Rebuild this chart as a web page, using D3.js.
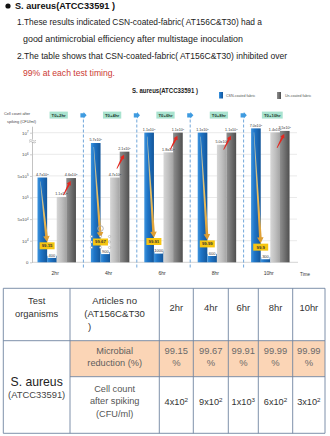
<!DOCTYPE html>
<html><head><meta charset="utf-8">
<script src="https://cdn.jsdelivr.net/npm/d3@7"></script>
<style>body{margin:0;background:#fff}svg{display:block}</style>
</head><body>
<svg id="c" width="330" height="436"></svg>
<script>
// ---------- data ----------
const groups = ["2hr", "4hr", "6hr", "8hr", "10hr"];
const stages = ["T0+2hr", "T0+4hr", "T0+6hr", "T0+8hr", "T0+10hr"];
const coatedBefore = [4.7e5, 5.7e6, 1.1e7, 1.1e7, 7.0e7];
const coatedAfter = [400, 900, 1000, 600, 300];
const controlBefore = [1.1e5, 4.7e5, 1.8e6, 5.0e6, 1.4e7];
const controlAfter = [4.6e5, 2.1e6, 1.1e7, 1.1e7, 3.5e7];
const chartReduction = ["99.15", "99.67", "99.91", "99.99", "99.9"];
const yTicks = [0, 1e4, 5e4, 1e5, 5e5, 1e6, 1e7];
const yTickLabels = [["0", ""], ["10", "4"], ["5x10", "4"], ["10", "5"], ["5x10", "5"], ["10", "6"], ["10", "7"]];
const tableTimes = ["2hr", "4hr", "6hr", "8hr", "10hr"];
const tableReduction = ["99.15", "99.67", "99.91", "99.99", "99.99"];
const cellMantissa = [4, 9, 1, 6, 3];
const cellExponent = [2, 2, 3, 2, 2];
const introLines = [
  "1.These results indicated CSN-coated-fabric( AT156C&T30) had a",
  "good antimicrobial efficiency after multistage  inoculation",
  "2.The table shows that CSN-coated-fabric( AT156C&T30) inhibited  over",
  "99% at each test timing."
];

// ---------- setup ----------
const F = "'Liberation Sans', Arial, sans-serif";
const svg = d3.select("#c").attr("font-family", F);
const defs = svg.append("defs");
function hgrad(id, stops) {
  const g = defs.append("linearGradient").attr("id", id).attr("x1", 0).attr("x2", 1).attr("y1", 0).attr("y2", 0);
  stops.forEach(([o, c]) => g.append("stop").attr("offset", o).attr("stop-color", c));
}
hgrad("gBlue", [[0, "#3e95de"], [0.35, "#1f75c7"], [1, "#13569a"]]);
hgrad("gLight", [[0, "#d6d6d6"], [0.5, "#c0c0c0"], [1, "#a4a4a4"]]);
hgrad("gDark", [[0, "#8f8f8f"], [0.5, "#707070"], [1, "#4f4f4f"]]);

function sup(sel, base, exp) {
  sel.append("tspan").text(base);
  if (exp) sel.append("tspan").attr("dy", "-0.45em").attr("font-size", "0.68em").text(exp);
}

// ---------- intro text ----------
svg.append("circle").attr("cx", 8).attr("cy", 6).attr("r", 2.6).attr("fill", "#111");
svg.append("text").attr("x", 15).attr("y", 9).attr("font-size", 8.6).attr("font-weight", "bold")
  .attr("fill", "#111").attr("textLength", 100).attr("lengthAdjust", "spacingAndGlyphs").text("S. aureus(ATCC33591 )");
const introPos = [[17, 24.6, 245, "#222"], [23, 41.9, 220, "#222"], [17, 58.9, 270, "#222"], [23, 75.6, 92, "#cc3a34"]];
introLines.forEach((t, i) => {
  const [x, y, w, c] = introPos[i];
  svg.append("text").attr("x", x).attr("y", y).attr("font-size", 8.2).attr("fill", c)
    .attr("textLength", w).attr("lengthAdjust", "spacingAndGlyphs").text(t);
});

// ---------- chart ----------
const yBot = 262.3, yTop = 132.7, step = (yBot - yTop) / 6;
const yMain = d3.scaleLinear().domain([...yTicks, 1e8])
  .range([0, 1, 2, 3, 4, 5, 6, 6.3].map(i => yBot - i * step));
const yLow = d3.scaleLog().domain([100, 1e4]).range([yBot, yBot - step]).clamp(true);
const y = v => (v < 1e4 ? yLow(v) : yMain(v));

const x0 = d3.scaleBand().domain(groups).range([30, 297]).padding(0);
const keys = ["cb", "ca", "gb", "ga"];
const x1 = d3.scaleBand().domain(keys).range([0, x0.bandwidth()]).paddingInner(0).paddingOuter(0.78);
const bw = x1.bandwidth();

const chart = svg.append("g");
// title
chart.append("text").attr("x", 165).attr("y", 92.8).attr("text-anchor", "middle").attr("font-size", 6.6)
  .attr("font-weight", "bold").attr("fill", "#222").attr("textLength", 66).attr("lengthAdjust", "spacingAndGlyphs")
  .text("S. aureus(ATCC33591 )");
// legend
chart.append("rect").attr("x", 219).attr("y", 92).attr("width", 4).attr("height", 6.5).attr("fill", "url(#gBlue)");
chart.append("text").attr("x", 226).attr("y", 96.6).attr("font-size", 3.6).attr("fill", "#555").text("CSN-coated fabric");
chart.append("rect").attr("x", 277).attr("y", 92).attr("width", 4).attr("height", 7).attr("fill", "url(#gDark)");
chart.append("text").attr("x", 285).attr("y", 96.8).attr("font-size", 3.6).attr("fill", "#555").text("Un-coated fabric");
// y title
chart.append("text").attr("x", 4).attr("y", 114.5).attr("font-size", 3.9).attr("fill", "#444").text("Cell count after");
chart.append("text").attr("x", 7).attr("y", 122.5).attr("font-size", 3.9).attr("fill", "#444").text("spiking (CFU/ml)");

// gridlines
chart.append("g").selectAll("line").data(yTicks.slice(1)).join("line")
  .attr("x1", 33).attr("x2", 297).attr("y1", d => yMain(d)).attr("y2", d => yMain(d))
  .attr("stroke", "#dcdcdc").attr("stroke-width", 0.6);

// y axis
const ax = chart.append("g").attr("transform", "translate(32,0)")
  .call(d3.axisLeft(yMain).tickValues(yTicks).tickSize(2).tickSizeOuter(0));
ax.select(".domain").attr("stroke", "#9a9a9a").attr("stroke-width", 0.6);
ax.selectAll(".tick line").attr("stroke", "#9a9a9a").attr("stroke-width", 0.5);
ax.selectAll(".tick text").attr("font-size", 4.3).attr("fill", "#444").attr("font-family", F).attr("x", -3.5)
  .each(function (d, i) { const t = d3.select(this); t.text(null); sup(t, yTickLabels[i][0], yTickLabels[i][1]); });
// axis break
chart.append("rect").attr("x", 29).attr("y", 139.6).attr("width", 7).attr("height", 2.4).attr("fill", "#fff");
chart.append("path").attr("d", "M29,140.4 q1.75,-1.4 3.5,0 t3.5,0 M29,142.2 q1.75,-1.4 3.5,0 t3.5,0")
  .attr("fill", "none").attr("stroke", "#888").attr("stroke-width", 0.5);
// x axis line
chart.append("line").attr("x1", 32).attr("x2", 298).attr("y1", yBot).attr("y2", yBot).attr("stroke", "#b5b5b5").attr("stroke-width", 0.6);

// bars
const rows = groups.map((g, i) => ({ g, i, vals: { cb: coatedBefore[i], ca: coatedAfter[i], gb: controlBefore[i], ga: controlAfter[i] } }));
const fills = { cb: "url(#gBlue)", ca: "url(#gBlue)", gb: "url(#gLight)", ga: "url(#gDark)" };
const gg = chart.append("g").selectAll("g").data(rows).join("g").attr("transform", d => `translate(${x0(d.g)},0)`);
gg.selectAll("rect").data(d => keys.map(k => ({ k, v: d.vals[k] }))).join("rect")
  .attr("x", d => x1(d.k)).attr("width", bw + 0.05)
  .attr("y", d => y(d.v)).attr("height", d => yBot - y(d.v)).attr("fill", d => fills[d.k]);
// value labels on tall bars
function fmtParts(v) { const e = Math.floor(Math.log10(v)); return [(v / Math.pow(10, e)).toFixed(1) + "x10", String(e)]; }
gg.each(function (d) {
  ["cb", "gb", "ga"].forEach(k => {
    const p = fmtParts(d.vals[k]);
    const t = d3.select(this).append("text").attr("x", x1(k) + bw / 2).attr("y", y(d.vals[k]) - 1.6)
      .attr("text-anchor", "middle").attr("font-size", 3.7).attr("fill", "#333");
    sup(t, p[0], p[1]);
  });
});

// dashed separators, stage boxes, chevrons
groups.forEach((g, i) => {
  const cx = x0(g) + x0.bandwidth() / 2;
  const w = stages[i].length * 2.55 + 3;
  chart.append("rect").attr("x", cx - w / 2 + 2).attr("y", 111.6).attr("width", w).attr("height", 7).attr("fill", "#a9e3cf");
  chart.append("text").attr("x", cx + 2).attr("y", 116.6).attr("text-anchor", "middle").attr("font-size", 4.3)
    .attr("font-weight", "bold").attr("fill", "#1f3d32").text(stages[i]);
  if (i < groups.length - 1) {
    const bx = x0(g) + x0.bandwidth();
    chart.append("line").attr("x1", bx).attr("x2", bx).attr("y1", 119.5).attr("y2", 268)
      .attr("stroke", "#4b8fd0").attr("stroke-width", 0.8).attr("stroke-dasharray", "3,2");
    chart.append("path").attr("d", `M${bx - 3},${113.2}h3.2v-1.2l3,3.3l-3,3.3v-1.2h-3.2z`).attr("fill", "#3f9be0");
  }
});

// arrows
function taper(x1_, y1_, x2_, y2_, w0, w1, hw, hl, fill) {
  const dx = x2_ - x1_, dy = y2_ - y1_, L = Math.hypot(dx, dy), ux = dx / L, uy = dy / L, px = -uy, py = ux;
  const bx = x2_ - ux * hl, by = y2_ - uy * hl;
  const pts = [[x1_ + px * w0 / 2, y1_ + py * w0 / 2], [bx + px * w1 / 2, by + py * w1 / 2], [bx + px * hw / 2, by + py * hw / 2],
    [x2_, y2_], [bx - px * hw / 2, by - py * hw / 2], [bx - px * w1 / 2, by - py * w1 / 2], [x1_ - px * w0 / 2, y1_ - py * w0 / 2]];
  chart.append("path").attr("d", "M" + pts.map(p => p.join(",")).join("L") + "Z").attr("fill", fill);
}
rows.forEach(d => {
  const gx = x0(d.g);
  const topA = y(d.vals.ca);
  const wTop = topA - 3.5;           // white box top
  const yelTop = wTop - 10;          // yellow box top
  const cx = gx + x1("ca");
  // orange arrow
  const sx = gx + x1("cb") + bw * 0.3, sy = y(d.vals.cb) + 4;
  const gid = "og" + d.i;
  const lg = defs.append("linearGradient").attr("id", gid).attr("gradientUnits", "userSpaceOnUse")
    .attr("x1", sx).attr("y1", sy).attr("x2", cx).attr("y2", yelTop);
  lg.append("stop").attr("offset", 0).attr("stop-color", "#f4e6b8").attr("stop-opacity", 0.6);
  lg.append("stop").attr("offset", 0.55).attr("stop-color", "#ecc060");
  lg.append("stop").attr("offset", 1).attr("stop-color", "#dc9a2e");
  taper(sx, sy, cx, yelTop - 0.3, 0.5, 2.6, 6.5, 6, `url(#${gid})`);
  // red arrow
  const gt = y(d.vals.ga);
  taper(gx + x1("gb") + bw * 0.7, gt + 17, gx + x1("ga") + bw * 0.45, gt + 3, 0.8, 2, 4.6, 4, "#e3271f");
  // white count box
  chart.append("rect").attr("x", gx + x1("ca") + bw / 2 - 4.2).attr("y", wTop).attr("width", 8.4).attr("height", 5.6).attr("fill", "#fff");
  chart.append("text").attr("x", gx + x1("ca") + bw / 2).attr("y", wTop + 4.3).attr("text-anchor", "middle")
    .attr("font-size", 4).attr("fill", "#333").text(d.vals.ca);
  // yellow reduction box
  chart.append("rect").attr("x", cx - 7.5).attr("y", yelTop).attr("width", 15).attr("height", 7).attr("fill", "#f6c512");
  chart.append("text").attr("x", cx).attr("y", yelTop + 5).attr("text-anchor", "middle").attr("font-size", 4.3)
    .attr("font-weight", "bold").attr("fill", "#333").text(chartReduction[d.i]);
  if (d.i === 1) {
    const hx = [cx - 9, cx, cx + 9], hy = [yelTop - 2, yelTop + 3.5, yelTop + 9];
    hx.forEach((xx, a) => hy.forEach((yy, b) => {
      if (a === 1 && b === 1) return;
      chart.append("circle").attr("cx", xx).attr("cy", yy).attr("r", 1.1).attr("fill", "#fff").attr("stroke", "#888").attr("stroke-width", 0.4);
    }));
    chart.append("circle").attr("cx", cx).attr("cy", yelTop - 10).attr("r", 2.8).attr("fill", "none").attr("stroke", "#aaa").attr("stroke-width", 0.9);
  }
});

// x labels
chart.append("g").selectAll("text").data(groups).join("text")
  .attr("x", d => x0(d) + x0.bandwidth() / 2 - 1.5).attr("y", 274.5).attr("text-anchor", "middle")
  .attr("font-size", 5).attr("fill", "#333").text(d => d);
chart.append("text").attr("x", 305).attr("y", 275.5).attr("text-anchor", "middle").attr("font-size", 4.5).attr("fill", "#333").text("Time");

// ---------- table ----------
const tX = [3.3, 70, 159.3, 193.3, 228.3, 258.3, 292.7, 325];
const tY = [288.3, 340.7, 376.7, 433.3];
const tb = svg.append("g");
tb.append("rect").attr("x", tX[1]).attr("y", tY[1]).attr("width", tX[7] - tX[1]).attr("height", tY[2] - tY[1]).attr("fill", "#fbd5b6");
const lc = "#6f84a0";
[[tX[0], tY[0]], [tX[0], tY[1]], [tX[1], tY[2]], [tX[0], tY[3]]].forEach(([xa, yy]) =>
  tb.append("line").attr("x1", xa).attr("x2", tX[7]).attr("y1", yy).attr("y2", yy).attr("stroke", lc).attr("stroke-width", 0.9));
tX.forEach(xx => tb.append("line").attr("x1", xx).attr("x2", xx).attr("y1", tY[0]).attr("y2", tY[3]).attr("stroke", lc).attr("stroke-width", 0.9));

function tt(x, yy, s, size, color, anchor) {
  return tb.append("text").attr("x", x).attr("y", yy).attr("font-size", size).attr("fill", color)
    .attr("text-anchor", anchor || "middle").text(s);
}
const c1 = (tX[0] + tX[1]) / 2, c2 = (tX[1] + tX[2]) / 2;
tt(c1, 304, "Test", 9.4, "#333");
tt(c1, 317.3, "organisms", 9.4, "#333");
tt(c2, 304, "Articles no", 9.6, "#333");
tt(c2, 317.3, "(AT156C&T30", 9.6, "#333");
tt(88, 330, ")", 9.6, "#333", "start");
tableTimes.forEach((t, i) => {
  const cx = (tX[i + 2] + tX[i + 3]) / 2;
  tt(cx, 310.6, t, 9.4, "#333");
  tt(cx, 354.3, tableReduction[i], 9.4, "#6a6a6a");
  tt(cx, 366, "%", 9.4, "#6a6a6a");
  const t2 = tb.append("text").attr("x", cx).attr("y", 405).attr("font-size", 9.2).attr("fill", "#333").attr("text-anchor", "middle");
  sup(t2, cellMantissa[i] + "x10", String(cellExponent[i]));
});
tt(c2, 354.3, "Microbial", 9.2, "#5e5e5e");
tt(c2, 366, "reduction (%)", 9.2, "#5e5e5e");
tt(c2, 391.6, "Cell count", 9.2, "#555");
tt(c2, 404.3, "after spiking", 9.2, "#555");
tt(c2, 416.6, "(CFU/ml)", 9.2, "#555");
tt(c1, 385.6, "S. aureus", 12.2, "#222");
tt(c1, 398.2, "(ATCC33591)", 9.4, "#444");
</script>
</body></html>
